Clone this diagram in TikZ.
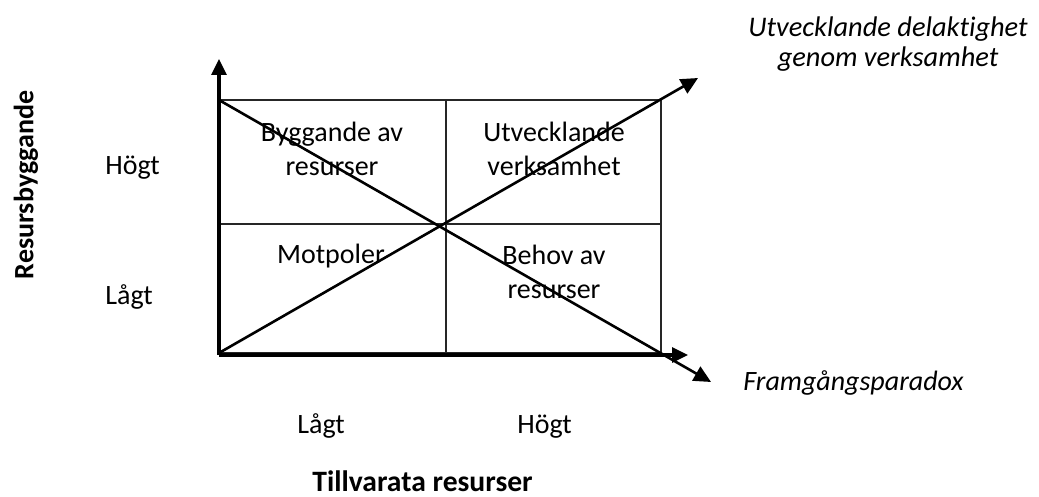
\documentclass[tikz,border=0pt]{standalone}
\usepackage{fontspec}
\setmainfont{Carlito}[Ligatures=NoCommon]
\usetikzlibrary{arrows.meta}
\begin{document}
\begin{tikzpicture}[x=0.5pt,y=-0.5pt,
  lbl/.style={font=\fontsize{14}{17}\selectfont, inner sep=0pt},
  celltxt/.style={lbl, align=center},
  gridline/.style={line width=0.8pt, draw=black!85},
  axisline/.style={line width=1.6pt, -{Triangle[length=8pt,width=7.5pt]}},
  diagline/.style={line width=1.3pt, -{Triangle[length=8.5pt,width=8pt]}}]
\useasboundingbox (0,0) rectangle (1039,497);
% grid corners
\coordinate (TL) at (219,100);
\coordinate (TM) at (446,100);
\coordinate (TR) at (661,100);
\coordinate (ML) at (219,224);
\coordinate (MR) at (661,224);
\coordinate (BL) at (219,353);
\coordinate (BM) at (446,353);
\coordinate (BR) at (661,353);
\coordinate (O) at (219,355);
\coordinate (Ytip) at (219,59);
\coordinate (Xtip) at (688,355);
\coordinate (Utip) at (698,78);
\coordinate (Ftip) at (711,382);
% grid
\draw[gridline] (TL) rectangle (BR);
\draw[gridline] (TM) -- (BM);
\draw[gridline] (ML) -- (MR);
% axes
\draw[axisline] (O) -- (Ytip);
\draw[axisline] (O) -- (Xtip);
% diagonals
\draw[diagline] (BL) -- (Utip);
\draw[diagline] (TL) -- (Ftip);
% cell texts
\node[celltxt] (c1) at (332,149) {Byggande av\\resurser};
\node[celltxt] (c2) at (554,149) {Utvecklande\\verksamhet};
\node[lbl, anchor=base] (c3) at (331,264) {Motpoler};
\node[celltxt] (c4) at (554,272) {Behov av\\resurser};
% axis labels
\node[lbl, anchor=base west] (yh) at (105,175) {Högt};
\node[lbl, anchor=base west] (yl) at (105,305) {Lågt};
\node[lbl, anchor=base west] (xl) at (297,433) {Lågt};
\node[lbl, anchor=base west] (xh) at (517,433) {Högt};
\node[lbl, anchor=base west, font=\fontsize{14.8}{17}\selectfont\bfseries] (xt) at (312,491) {Tillvarata resurser};
\node[lbl, rotate=90, font=\fontsize{14}{17}\selectfont\bfseries] (yt) at (26,185) {Resursbyggande};
% diagonal labels
\node[lbl, align=center, font=\fontsize{14.2}{15}\selectfont\itshape] (ut) at (888,44) {Utvecklande delaktighet\\genom verksamhet};
\node[lbl, anchor=base west, font=\fontsize{14}{17}\selectfont\itshape] (fp) at (743,390) {Framgångsparadox};
\end{tikzpicture}
\end{document}
